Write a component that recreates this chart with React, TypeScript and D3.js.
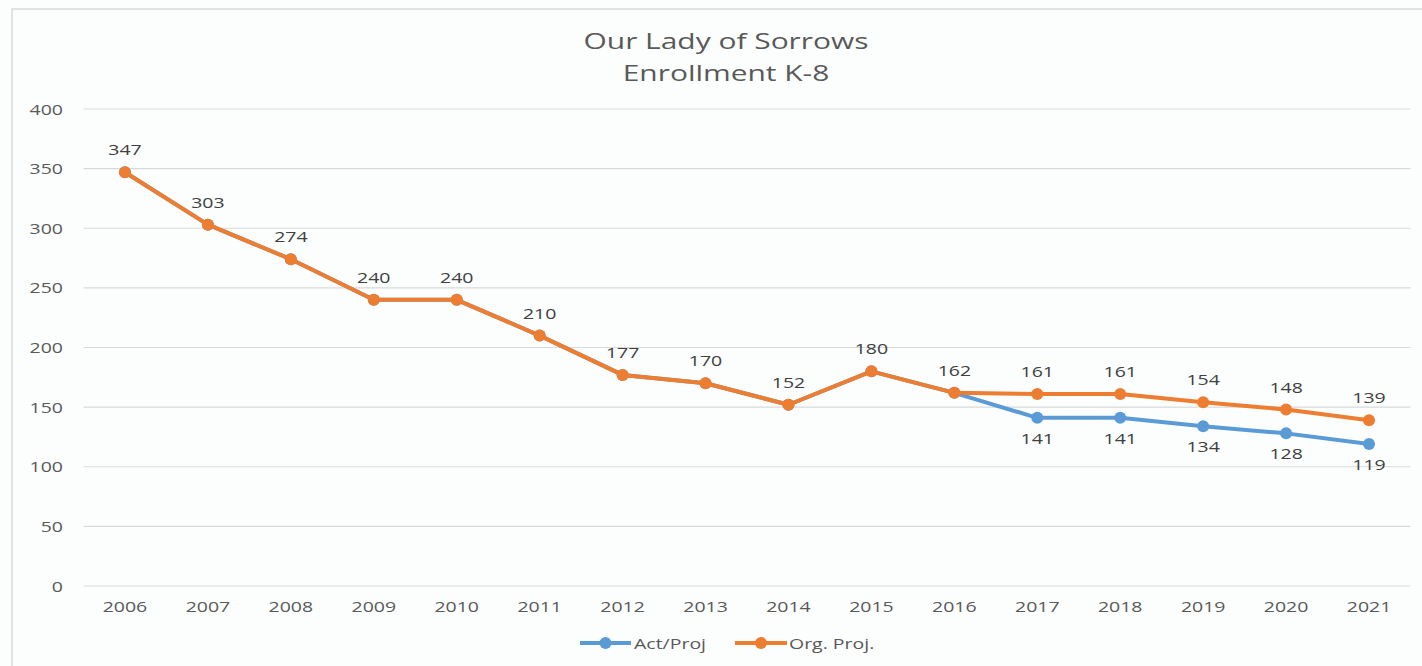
import React from "react";
import * as d3 from "d3";

const years = ["2006", "2007", "2008", "2009", "2010", "2011", "2012", "2013", "2014", "2015", "2016", "2017", "2018", "2019", "2020", "2021"];
const actProj = [347, 303, 274, 240, 240, 210, 177, 170, 152, 180, 162, 141, 141, 134, 128, 119];
const orgProj = [347, 303, 274, 240, 240, 210, 177, 170, 152, 180, 162, 161, 161, 154, 148, 139];
const yTicks = [0, 50, 100, 150, 200, 250, 300, 350, 400];

const W = 1422;
const H = 666;
const FONT = "'Open Sans', sans-serif";
const BLUE = "#5B9BD5";
const ORANGE = "#ED7D31";

// the source picture is stretched sideways, so text gets a horizontal scale
const T = ({ x, y, anchor = "middle", size = 15, sx = 1.3, fill = "#595959", children }: any) => (
  <text
    transform={`translate(${x},${y}) scale(${sx},1)`}
    textAnchor={anchor}
    fontFamily={FONT}
    fontSize={size}
    fill={fill}
  >
    {children}
  </text>
);

const App = () => {
  const x = d3.scaleBand().domain(years).range([83.5, 1410.5]);
  const y = d3.scaleLinear().domain([0, 400]).range([586, 109]);
  const cx = (i: number) => x(years[i])! + x.bandwidth() / 2;

  const line = d3
    .line<number>()
    .x((_, i) => cx(i))
    .y((d) => y(d));

  return (
    <svg width={W} height={H} style={{ position: "absolute", left: 0, top: 0, background: "#fcfefe" }}>
      <rect x={12} y={9} width={W + 20} height={H + 20} fill="#fcfefe" stroke="#d9d9d9" strokeWidth={1.5} />

      <T x={726} y={49} size={22} sx={1.36}>Our Lady of Sorrows</T>
      <T x={726} y={81} size={22} sx={1.36}>Enrollment K-8</T>

      {yTicks.map((t) => (
        <g key={t}>
          <line x1={83.5} x2={1410.5} y1={y(t)} y2={y(t)} stroke="#d9d9d9" strokeWidth={1.2} />
          <T x={63} y={y(t) + 5.5} anchor="end">{t}</T>
        </g>
      ))}

      {years.map((yr, i) => (
        <T key={yr} x={cx(i)} y={611.5}>{yr}</T>
      ))}

      <path d={line(actProj)!} fill="none" stroke={BLUE} strokeWidth={4} strokeLinejoin="round" />
      {actProj.map((v, i) => (
        <circle key={"b" + i} cx={cx(i)} cy={y(v)} r={6} fill={BLUE} />
      ))}
      <path d={line(orgProj)!} fill="none" stroke={ORANGE} strokeWidth={4} strokeLinejoin="round" />
      {orgProj.map((v, i) => (
        <circle key={"o" + i} cx={cx(i)} cy={y(v)} r={6} fill={ORANGE} />
      ))}

      {orgProj.map((v, i) => (
        <T key={"ol" + i} x={cx(i)} y={y(v) - 17} fill="#404040">{v}</T>
      ))}
      {actProj.map((v, i) =>
        v !== orgProj[i] ? (
          <T key={"bl" + i} x={cx(i)} y={y(v) + 26} fill="#404040">{v}</T>
        ) : null
      )}

      <g>
        <line x1={580} x2={631} y1={643} y2={643} stroke={BLUE} strokeWidth={4} />
        <circle cx={605.5} cy={643} r={6} fill={BLUE} />
        <T x={634} y={648.5} anchor="start">Act/Proj</T>
        <line x1={735} x2={787} y1={643} y2={643} stroke={ORANGE} strokeWidth={4} />
        <circle cx={761} cy={643} r={6} fill={ORANGE} />
        <T x={789} y={648.5} anchor="start">Org. Proj.</T>
      </g>
    </svg>
  );
};

export default App;
